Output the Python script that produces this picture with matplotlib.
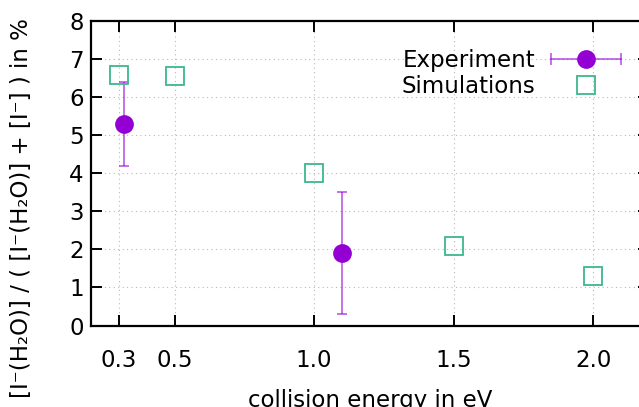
import matplotlib

matplotlib.use("Agg")
import matplotlib.pyplot as plt
from matplotlib.legend_handler import HandlerLine2D, HandlerTuple
from matplotlib.lines import Line2D

# 实验数据（带误差）
exp_energy = [0.32, 1.1]
exp_ratio = [5.3, 1.9]
exp_err_low = [4.2, 0.3]
exp_err_high = [6.4, 3.5]

# 模拟数据
sim_energy = [0.3, 0.5, 1.0, 1.5, 2.0]
sim_ratio = [6.58, 6.54, 4.0, 2.1, 1.3]

x_ticks = [0.3, 0.5, 1.0, 1.5, 2.0]
x_tick_labels = ["0.3", "0.5", "1.0", "1.5", "2.0"]
y_ticks = [0, 1, 2, 3, 4, 5, 6, 7, 8]

purple = "#9400d3"
green = "#3cb890"
fs = 16.5

plt.rcParams["font.family"] = ["DejaVu Sans"]

fig = plt.figure(figsize=(6.39, 4.07), dpi=100)
ax = fig.add_axes([0.142, 0.2, 0.874, 0.749])

yerr = [[r - lo for r, lo in zip(exp_ratio, exp_err_low)],
        [hi - r for r, hi in zip(exp_ratio, exp_err_high)]]
ax.errorbar(exp_energy, exp_ratio, yerr=yerr, fmt="none", ecolor=purple,
            elinewidth=1.1, capsize=3.6, capthick=1.1, alpha=0.7, zorder=3)
ax.plot(exp_energy, exp_ratio, "o", color=purple, markersize=13.5,
        markeredgewidth=0, zorder=4)
ax.plot(sim_energy, sim_ratio, "s", markerfacecolor="none",
        markeredgecolor=green, markersize=12.5, markeredgewidth=1.3, zorder=4)

ax.set_xlim(0.2, 2.2)
ax.set_ylim(0, 8)
ax.set_xticks(x_ticks)
ax.set_xticklabels(x_tick_labels)
ax.set_yticks(y_ticks)
ax.grid(True, linestyle=(0, (1, 3)), color="#b8b8b8", linewidth=0.8)
ax.set_axisbelow(True)

for s in ax.spines.values():
    s.set_linewidth(1.6)
ax.tick_params(axis="both", direction="in", length=8, width=1.4,
               labelsize=fs, top=True, right=True)
ax.tick_params(axis="x", pad=17)
ax.tick_params(axis="y", pad=5)

ax.set_xlabel("collision energy in eV", fontsize=fs, labelpad=12)
# y轴标题：用Unicode上下标，居中于整幅图
fig.text(22 / 639, 1 - 208.5 / 407,
         "[I\u207b(H\u2082O)] / ( [I\u207b(H\u2082O)] + [I\u207b] ) in %",
         rotation=90, ha="center", va="center", fontsize=fs)

# 图例：gnuplot风格，文字在左，样本在右
cap_line = Line2D([], [], color=purple, alpha=0.7, linewidth=1.1,
                  marker="|", markersize=8, markeredgewidth=1.1)
dot = Line2D([], [], color=purple, marker="o", linestyle="none",
             markersize=13.5, markeredgewidth=0)
sq = Line2D([], [], marker="s", linestyle="none", markerfacecolor="none",
            markeredgecolor=green, markersize=12.5, markeredgewidth=1.3)
ax.legend([(cap_line, dot), sq], ["Experiment", "Simulations"],
          handler_map={cap_line: HandlerLine2D(numpoints=2, marker_pad=0),
                       dot: HandlerLine2D(numpoints=1),
                       sq: HandlerLine2D(numpoints=1),
                       tuple: HandlerTuple(ndivide=1)},
          loc="upper right", bbox_to_anchor=(621 / 639, 1 - 49 / 407),
          bbox_transform=fig.transFigure, markerfirst=False, frameon=False,
          fontsize=fs, handlelength=3.05, handletextpad=0.7,
          borderpad=0, borderaxespad=0, labelspacing=0.15)

fig.savefig("out.png", dpi=100)
